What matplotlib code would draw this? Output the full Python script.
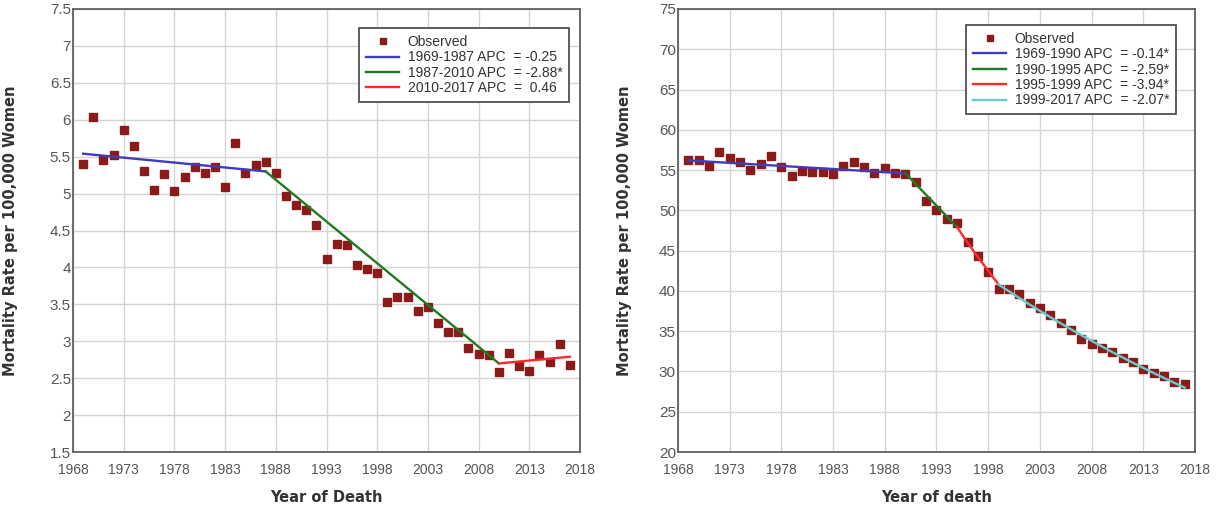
import matplotlib
matplotlib.use("Agg")
import matplotlib.pyplot as plt
from matplotlib.lines import Line2D

# ---- data ----
years = list(range(1969, 2018))

left_obs = [5.40, 6.04, 5.45, 5.52, 5.86, 5.64, 5.30, 5.05, 5.26, 5.03,
            5.22, 5.36, 5.28, 5.36, 5.09, 5.69, 5.28, 5.39, 5.43, 5.28,
            4.97, 4.84, 4.78, 4.57, 4.11, 4.32, 4.31, 4.03, 3.98, 3.93,
            3.53, 3.60, 3.60, 3.41, 3.47, 3.25, 3.13, 3.13, 2.91, 2.83,
            2.82, 2.59, 2.84, 2.66, 2.60, 2.81, 2.72, 2.96, 2.68]

right_obs = [56.2, 56.2, 55.5, 57.2, 56.5, 56.0, 55.0, 55.7, 56.7, 55.4,
             54.3, 54.9, 54.8, 54.8, 54.5, 55.5, 56.0, 55.4, 54.6, 55.2,
             54.7, 54.5, 53.5, 51.2, 50.0, 48.9, 48.4, 46.1, 44.3, 42.4,
             40.25, 40.3, 39.6, 38.5, 37.9, 37.0, 36.0, 35.1, 34.0, 33.35,
             32.9, 32.4, 31.65, 31.15, 30.3, 29.75, 29.4, 28.7, 28.4]

# fitted joinpoint segments: (years, fitted values, legend label, colour)
left_fits = [
    ([1969, 1987], [5.54, 5.30], "1969-1987 APC  = -0.25", "#3d3dbd"),
    ([1987, 2010], [5.30, 2.70], "1987-2010 APC  = -2.88*", "#1e7b1e"),
    ([2010, 2017], [2.70, 2.79], "2010-2017 APC  =  0.46", "#ff2a2a"),
]

right_fits = [
    ([1969, 1990], [56.2, 54.6], "1969-1990 APC  = -0.14*", "#3d3dbd"),
    ([1990, 1995], [54.6, 47.9], "1990-1995 APC  = -2.59*", "#1e7b1e"),
    ([1995, 1996, 1997, 1998, 1999], [47.9, 46.0, 44.2, 42.5, 40.8],
     "1995-1999 APC  = -3.94*", "#ff2a2a"),
    (list(range(1999, 2018)),
     [40.8, 39.96, 39.13, 38.32, 37.53, 36.75, 35.99, 35.24, 34.51, 33.80,
      33.10, 32.41, 31.74, 31.08, 30.44, 29.81, 29.19, 28.59, 28.00],
     "1999-2017 APC  = -2.07*", "#66cccc"),
]

x_ticks = [1968, 1973, 1978, 1983, 1988, 1993, 1998, 2003, 2008, 2013, 2018]
left_yticks = [1.5, 2, 2.5, 3, 3.5, 4, 4.5, 5, 5.5, 6, 6.5, 7, 7.5]
left_ytick_labels = ["1.5", "2", "2.5", "3", "3.5", "4", "4.5", "5", "5.5", "6", "6.5", "7", "7.5"]
right_yticks = [20, 25, 30, 35, 40, 45, 50, 55, 60, 65, 70, 75]

TICK_FONT = "Liberation Sans"
MARKER_COLOR = "#8b1a1a"


def draw_panel(ax, obs, fits, yticks, ylabels, xlabel, legend_anchor, ylabel_x):
    ax.set_xlim(1968, 2018)
    ax.set_ylim(yticks[0], yticks[-1])
    ax.set_xticks(x_ticks)
    ax.set_yticks(yticks)
    ax.set_xticklabels([str(t) for t in x_ticks], family=TICK_FONT, fontsize=10, color="#555555")
    ax.set_yticklabels(ylabels, family=TICK_FONT, fontsize=11, color="#555555")
    ax.tick_params(axis="both", length=0)
    ax.tick_params(axis="x", pad=8)
    ax.tick_params(axis="y", pad=1.5)
    ax.grid(True, color="#d4d4d4", linewidth=1.0)
    ax.set_axisbelow(True)
    for s in ax.spines.values():
        s.set_color("#606060")
        s.set_linewidth(1.3)

    ax.plot(years, obs, linestyle="none", marker="s", markersize=5.6,
            color=MARKER_COLOR, zorder=3)
    handles = [Line2D([], [], linestyle="none", marker="s", markersize=5,
                      color=MARKER_COLOR, label="Observed")]
    for xs, ys, lab, col in fits:
        ax.plot(xs, ys, color=col, linewidth=1.7, zorder=4)
        handles.append(Line2D([], [], color=col, linewidth=1.7, label=lab))

    ax.set_xlabel(xlabel, fontsize=10.5, fontweight="bold", color="#333333", labelpad=9)
    ax.set_ylabel("Mortality Rate per 100,000 Women", fontsize=10.5,
                  fontweight="bold", color="#333333")
    ax.yaxis.set_label_coords(ylabel_x, 0.5)

    leg = ax.legend(handles=handles, loc="upper left", bbox_to_anchor=legend_anchor,
                    borderaxespad=0, fancybox=False, framealpha=1,
                    prop={"family": TICK_FONT, "size": 10},
                    handlelength=2.4, handletextpad=0.6, labelspacing=0.1,
                    borderpad=0.5)
    leg.get_frame().set_edgecolor("#505050")
    leg.get_frame().set_linewidth(1.3)
    for t in leg.get_texts():
        t.set_color("#333333")


fig = plt.figure(figsize=(12.19, 5.08), dpi=100)
ax1 = fig.add_axes([0.0599, 0.1102, 0.4159, 0.8721])
ax2 = fig.add_axes([0.5562, 0.1102, 0.4241, 0.8721])

draw_panel(ax1, left_obs, left_fits, left_yticks, left_ytick_labels,
           "Year of Death", (0.564, 0.957), -0.108)
draw_panel(ax2, right_obs, right_fits, right_yticks, [str(v) for v in right_yticks],
           "Year of death", (0.557, 0.964), -0.089)

fig.savefig("out.png", dpi=100, facecolor="white")
